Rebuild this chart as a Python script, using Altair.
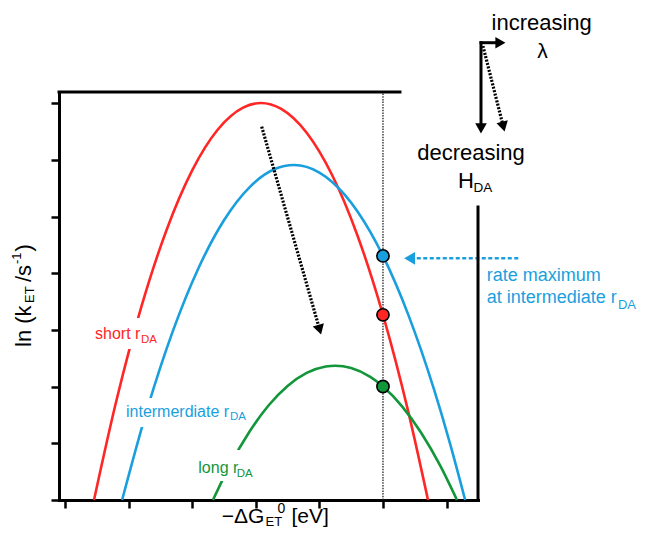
import altair as alt
import pandas as pd

# ---------------- data ----------------
RED_X = [0.456, 0.8, 1.2, 1.6, 2.0, 2.4, 2.8, 3.08, 3.4, 3.8, 4.2, 4.6, 5.0, 5.4, 5.708]
RED_Y = [0, 1.715, 3.407, 4.774, 5.816, 6.533, 6.924, 7.005, 6.902, 6.481, 5.735, 4.664, 3.268, 1.547, 0]
BLUE_X = [0.898, 1.3, 1.7, 2.1, 2.5, 2.9, 3.3, 3.6, 4.0, 4.4, 4.8, 5.0, 5.4, 5.8, 6.05, 6.292]
BLUE_Y = [0, 1.630, 2.993, 4.095, 4.937, 5.518, 5.840, 5.911, 5.778, 5.384, 4.731, 4.307, 3.263, 1.960, 1.013, 0]
GREEN_X = [2.327, 2.6, 2.9, 3.2, 3.5, 3.8, 4.1, 4.25, 4.5, 4.8, 5.0, 5.3, 5.6, 5.9, 6.163]
GREEN_Y = [0, 0.627, 1.204, 1.667, 2.012, 2.242, 2.356, 2.37, 2.328, 2.172, 2.003, 1.653, 1.187, 0.605, 0]

SERIES = ["short", "intermediate", "long"]
DOT_SERIES = ["intermediate", "short", "long"]
DOT_X = [5, 5, 5]
DOT_Y = [4.307, 3.268, 2.003]

X_TICKS = [0, 1, 2, 3, 4, 5, 6]
Y_TICKS = [0, 1, 2, 3, 4, 5, 6, 7]

# ---------------- styling ----------------
RED = "#FF2626"
BLUE = "#1A9FDE"
GREEN = "#12963A"
FONT = "Liberation Sans"

X_SCALE = alt.Scale(domain=[-0.0943, 6.494], nice=False, zero=False)
Y_SCALE = alt.Scale(domain=[0, 7.2], nice=False, zero=False)
AX_X = alt.Axis(values=X_TICKS, labels=False, title=None, grid=False)
AX_Y = alt.Axis(values=Y_TICKS, labels=False, title=None, grid=False)
COLOR = alt.Color("s:N", scale=alt.Scale(domain=SERIES, range=[RED, BLUE, GREEN]), legend=None)


def X(f="x"):
    return alt.X(f, type="quantitative", scale=X_SCALE, axis=AX_X)


def Y(f="y"):
    return alt.Y(f, type="quantitative", scale=Y_SCALE, axis=AX_Y)


curves = pd.DataFrame({
    "x": RED_X + BLUE_X + GREEN_X,
    "y": RED_Y + BLUE_Y + GREEN_Y,
    "s": ["short"] * len(RED_X) + ["intermediate"] * len(BLUE_X) + ["long"] * len(GREEN_X),
    "o": list(range(len(RED_X))) + list(range(len(BLUE_X))) + list(range(len(GREEN_X))),
})
dots = pd.DataFrame({"x": DOT_X, "y": DOT_Y, "s": DOT_SERIES})

layers = []

# dotted vertical guide at x = 5
guide = pd.DataFrame({"x": [5], "y": [0], "y2": [7.2]})
layers.append(alt.Chart(guide).mark_rule(color="#222", strokeWidth=1.3, strokeDash=[1.5, 1.2]).encode(
    x=X(), y=Y(), y2="y2:Q"))

# curves
layers.append(alt.Chart(curves).mark_line(strokeWidth=2.6, interpolate="monotone").encode(
    x=X(), y=Y(), color=COLOR, detail="s:N", order="o:Q"))

# white boxes behind the curve labels (gaps in the lines)
boxes = pd.DataFrame({
    "x": [0.425, 0.912, 2.044], "x2": [1.494, 2.893, 3.019],
    "y": [3.212, 1.800, 0.882], "y2": [2.664, 1.288, 0.335],
})
layers.append(alt.Chart(boxes).mark_rect(color="white", opacity=1).encode(
    x=X(), x2="x2:Q", y=Y(), y2="y2:Q"))

# dots
layers.append(alt.Chart(dots).mark_point(filled=True, size=150, stroke="black", strokeWidth=1.6, opacity=1).encode(
    x=X(), y=Y(), fill=alt.Fill("s:N", scale=alt.Scale(domain=SERIES, range=[RED, BLUE, GREEN]), legend=None)))

# ---------------- annotations ----------------
# dotted black arrows (main plot and top-right)
dotted = pd.DataFrame({"x": [3.093, 6.572], "y": [6.588, 8.011], "x2": [3.994, 6.883], "y2": [3.048, 6.630]})
layers.append(alt.Chart(dotted).mark_rule(color="black", strokeWidth=3.2, strokeDash=[2, 1.5]).encode(
    x=X(), y=Y(), x2="x2:Q", y2="y2:Q"))
# solid black arrows (top-right)
solid = pd.DataFrame({"x": [6.541, 6.518], "y": [8.097, 8.07], "x2": [6.541, 6.808], "y2": [6.600, 8.07]})
layers.append(alt.Chart(solid).mark_rule(color="black", strokeWidth=3).encode(
    x=X(), y=Y(), x2="x2:Q", y2="y2:Q"))
heads = pd.DataFrame({"x": [4.005, 6.541, 6.846, 6.893], "y": [3.005, 6.558, 8.07, 6.589], "a": [164, 180, 90, 166]})
layers.append(alt.Chart(heads).mark_point(shape="triangle-up", filled=True, size=135, color="black", opacity=1).encode(
    x=X(), y=Y(), angle=alt.Angle("a:Q", scale=None)))
# blue dashed arrow
bl = pd.DataFrame({"x": [7.127], "x2": [5.456], "y": [4.265]})
layers.append(alt.Chart(bl).mark_rule(color=BLUE, strokeWidth=2.6, strokeDash=[4, 2.5]).encode(
    x=X(), x2="x2:Q", y=Y()))
bh = pd.DataFrame({"x": [5.418], "y": [4.265], "a": [270]})
layers.append(alt.Chart(bh).mark_point(shape="triangle-up", filled=True, size=160, color=BLUE, opacity=1).encode(
    x=X(), y=Y(), angle=alt.Angle("a:Q", scale=None)))

# frame pieces: top line and right line
frame = pd.DataFrame({"x": [-0.0943, 6.494], "x2": [5.267, 6.494], "y": [7.2, 0], "y2": [7.2, 5.171]})
layers.append(alt.Chart(frame).mark_rule(color="black", strokeWidth=3, strokeCap="square").encode(
    x=X(), x2="x2:Q", y=Y(), y2="y2:Q"))

# texts: (text, x, y, size, color, align, angle)
TEXTS = [
    ("short r", 0.472, 2.836, 16, RED, "left", 0),
    ("DA", 1.195, 2.762, 11.5, RED, "left", 0),
    ("intermerdiate r", 0.959, 1.470, 16, BLUE, "left", 0),
    ("DA", 2.594, 1.403, 11.5, BLUE, "left", 0),
    ("long r", 2.096, 0.471, 16, GREEN, "left", 0),
    ("DA", 2.700, 0.401, 11.5, GREEN, "left", 0),
    ("rate maximum", 6.630, 3.870, 18, BLUE, "left", 0),
    ("at intermediate r", 6.630, 3.471, 18, BLUE, "left", 0),
    ("DA", 8.695, 3.362, 13, BLUE, "left", 0),
    ("increasing", 7.495, 8.294, 22, "black", "center", 0),
    ("λ", 7.508, 7.800, 21, "black", "center", 0),
    ("decreasing", 6.384, 6.000, 22, "black", "center", 0),
    ("H", 6.179, 5.506, 22, "black", "left", 0),
    ("DA", 6.423, 5.435, 13.5, "black", "left", 0),
    ("ln (k", -0.542, 2.700, 22, "black", "left", 270),
    ("ET", -0.487, 3.477, 13, "black", "left", 270),
    ("/s", -0.542, 3.847, 22, "black", "left", 270),
    ("-1", -0.692, 4.165, 13, "black", "left", 270),
    (")", -0.542, 4.385, 22, "black", "left", 270),
    ("\u2212\u0394G", 2.464, -0.406, 21, "black", "left", 0),
    ("ET", 3.153, -0.459, 13, "black", "left", 0),
    ("0", 3.340, -0.229, 14, "black", "left", 0),
    ("[eV]", 3.561, -0.406, 21, "black", "left", 0),
]
for t, x, y, sz, col, al, ang in TEXTS:
    d = pd.DataFrame({"x": [x], "y": [y], "t": [t]})
    kw = dict(align=al, baseline="alphabetic", fontSize=sz, color=col, font=FONT)
    if ang:
        kw["angle"] = ang
    layers.append(alt.Chart(d).mark_text(**kw).encode(x=X(), y=Y(), text="t:N"))

chart = alt.layer(*layers).properties(
    width=419, height=408,
    autosize=alt.AutoSizeParams(type="none"),
    padding={"left": 51, "top": 84, "right": 159, "bottom": 31},
    background="white",
).configure_view(strokeWidth=0).configure_axis(
    domainColor="black", domainWidth=3, domainCap="square",
    tickColor="black", tickWidth=2.5, tickSize=8,
)

chart.save("out.html", embed_options={"renderer": "svg", "actions": False})
